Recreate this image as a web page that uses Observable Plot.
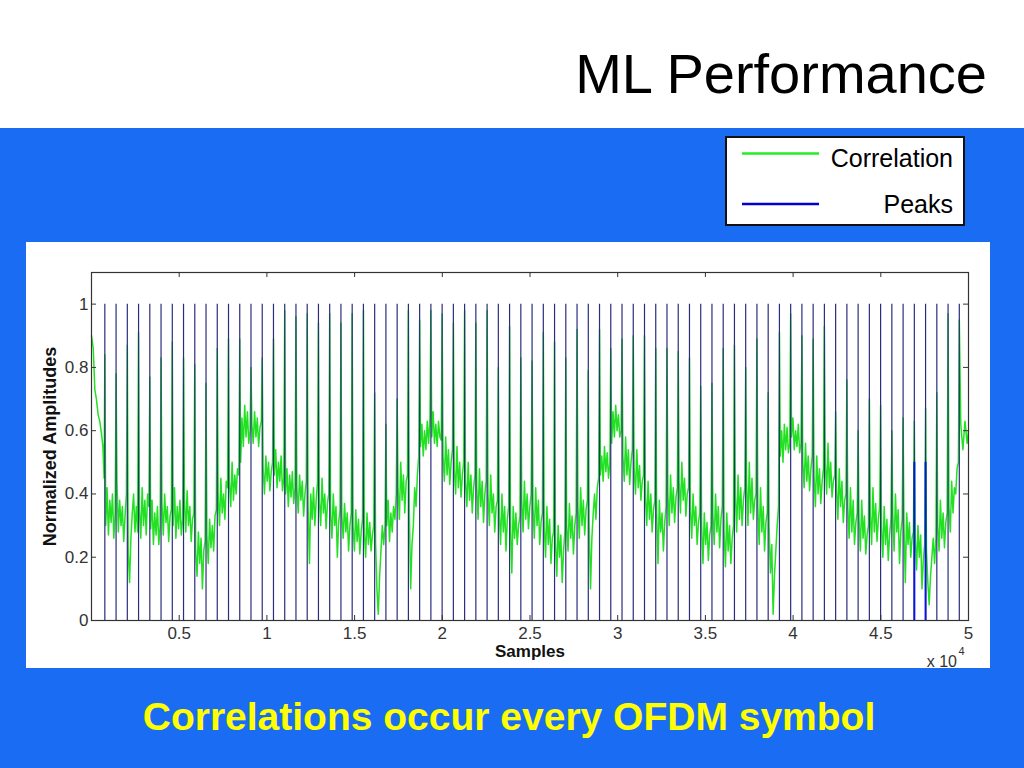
<!DOCTYPE html>
<html>
<head>
<meta charset="utf-8">
<script src="https://cdn.jsdelivr.net/npm/d3@7"></script>
<script src="https://cdn.jsdelivr.net/npm/@observablehq/plot@0.6"></script>
<style>
  html, body { margin: 0; padding: 0; }
  body { width: 1024px; height: 768px; position: relative; overflow: hidden; background: #1a6cf2; font-family: "Liberation Sans", Arial, sans-serif; }
  #topband { position: absolute; left: 0; top: 0; width: 1024px; height: 128px; background: #ffffff; }
  #chart { position: absolute; left: 26px; top: 242px; width: 964px; height: 426px; background: #ffffff; }
  #overlay { position: absolute; left: 0; top: 0; pointer-events: none; }
</style>
</head>
<body>
<div id="topband"></div>
<div id="chart"></div>
<svg id="overlay" width="1024" height="768" xmlns="http://www.w3.org/2000/svg">
  <text x="987" y="93" text-anchor="end" font-family="Liberation Sans, Arial, sans-serif" font-size="56" fill="#000">ML Performance</text>
  <rect x="726" y="137" width="238" height="88" fill="#fff" stroke="#111" stroke-width="2"></rect>
  <line x1="742" x2="819" y1="153.5" y2="153.5" stroke="#22ee22" stroke-width="2.5"></line>
  <line x1="742" x2="819" y1="204" y2="204" stroke="#0000d0" stroke-width="2.5"></line>
  <text x="953" y="166.5" text-anchor="end" font-family="Liberation Sans, Arial, sans-serif" font-size="25" fill="#000">Correlation</text>
  <text x="953" y="212.5" text-anchor="end" font-family="Liberation Sans, Arial, sans-serif" font-size="25" fill="#000">Peaks</text>
  <text x="957" y="666.5" text-anchor="end" font-family="Liberation Sans, Arial, sans-serif" font-size="16" fill="#333">x 10</text>
  <text x="958.5" y="655" font-family="Liberation Sans, Arial, sans-serif" font-size="11" fill="#333">4</text>
  <text x="509" y="730" text-anchor="middle" font-family="Liberation Sans, Arial, sans-serif" font-size="39" font-weight="bold" fill="#ffff00">Correlations occur every OFDM symbol</text>
</svg>
<script>
// ---- tick values / labels ----
const xTickValues = [5000, 10000, 15000, 20000, 25000, 30000, 35000, 40000, 45000, 50000];
const xTickLabels = ["0.5", "1", "1.5", "2", "2.5", "3", "3.5", "4", "4.5", "5"];
const yTickValues = [0, 0.2, 0.4, 0.6, 0.8, 1];
const yTickLabels = ["0", "0.2", "0.4", "0.6", "0.8", "1"];

// ---- peaks (sample index of each OFDM symbol start) ----
const peakSamples = [760, 1401, 2042, 2683, 3324, 3965, 4606, 5247, 5888, 6529,
  7170, 7811, 8452, 9093, 9734, 10375, 11016, 11657, 12298, 12939,
  13580, 14221, 14862, 15503, 16144, 16785, 17426, 18067, 18708, 19349,
  19990, 20631, 21272, 21913, 22554, 23195, 23836, 24477, 25118, 25759,
  26400, 27041, 27682, 28323, 28964, 29605, 30246, 30887, 31528, 32169,
  32810, 33451, 34092, 34733, 35374, 36015, 36656, 37297, 37938, 38579,
  39220, 39861, 40502, 41143, 41784, 42425, 43066, 43707, 44348, 44989,
  45630, 46271, 46912, 47553, 48194, 48835, 49476];
const peakAmplitude = 1;
const halfPeakSamples = [46912, 47553];
const halfPeakAmplitude = 0.5;

// ---- correlation: spike height at each peak ----
const spikeHeights = [0.84, 0.78, 0.87, 0.91, 0.77, 0.83, 0.88, 0.83, 0.81, 0.75,
  0.86, 0.89, 0.89, 0.80, 0.83, 0.89, 0.98, 0.96, 0.97, 0.94,
  0.97, 0.94, 0.97, 0.98, 0.72, 0.62, 0.70, 0.98, 0.95, 0.98,
  0.97, 0.94, 0.98, 0.94, 0.98, 0.80, 0.93, 0.83, 0.82, 0.91,
  0.88, 0.83, 0.92, 0.79, 0.92, 0.86, 0.89, 0.90, 0.90, 0.86,
  0.86, 0.85, 0.83, 0.74, 0.75, 0.86, 0.87, 0.80, 0.89, 0.72,
  0.91, 0.97, 0.90, 0.89, 0.93, 0.66, 0.76, 0.60, 0.70, 0.68,
  0.60, 0.64, 0.63, 0.67, 0.72, 0.97, 0.95];

// ---- correlation: baseline readings between consecutive peaks ----
const baseFrac = [0.08, 0.2, 0.32, 0.44, 0.56, 0.68, 0.8, 0.92];
const baseline = [
  [.30,.42,.27,.38,.31,.40,.26,.34], [.44,.28,.38,.30,.36,.25,.33,.40], [.22,.12,.26,.34,.40,.28,.36,.28],
  [.35,.26,.42,.30,.38,.27,.40,.36], [.29,.38,.24,.34,.27,.36,.24,.30], [.37,.27,.40,.31,.36,.25,.33,.35],
  [.30,.42,.26,.36,.29,.38,.27,.32], [.38,.28,.41,.30,.36,.25,.32,.34], [.22,.14,.28,.18,.26,.10,.22,.25],
  [.27,.18,.32,.23,.30,.22,.33,.35], [.40,.30,.45,.34,.40,.32,.44,.42], [.44,.36,.50,.38,.46,.40,.48,.46],
  [.50,.64,.55,.68,.58,.66,.56,.60], [.62,.56,.66,.58,.64,.55,.61,.63], [.48,.40,.52,.44,.50,.41,.47,.50],
  [.46,.54,.42,.50,.44,.52,.41,.45], [.40,.48,.36,.46,.39,.47,.37,.42], [.42,.34,.46,.38,.44,.33,.40,.44],
  [.36,.18,.40,.32,.42,.30,.38,.44], [.38,.30,.45,.34,.40,.29,.37,.40], [.34,.26,.40,.30,.36,.20,.31,.35],
  [.33,.26,.37,.28,.34,.22,.30,.34], [.30,.22,.35,.25,.32,.21,.28,.32], [.28,.20,.34,.24,.31,.22,.27,.30],
  [.25,.10,.02,.14,.22,.30,.24,.30], [.30,.38,.25,.34,.28,.36,.32,.40], [.42,.32,.50,.38,.46,.34,.44,.46],
  [.35,.10,.24,.30,.42,.36,.46,.52], [.55,.62,.52,.60,.54,.63,.56,.64], [.58,.66,.56,.62,.55,.63,.58,.57],
  [.52,.44,.58,.46,.54,.43,.50,.54], [.48,.40,.55,.42,.50,.39,.46,.50], [.44,.36,.50,.38,.46,.34,.42,.46],
  [.42,.32,.48,.36,.44,.31,.40,.44], [.40,.30,.46,.34,.40,.28,.36,.38], [.34,.24,.40,.28,.36,.22,.32,.36],
  [.30,.15,.36,.26,.34,.24,.30,.33], [.38,.28,.44,.32,.40,.29,.36,.40], [.36,.26,.42,.30,.38,.24,.31,.34],
  [.30,.20,.36,.24,.32,.18,.26,.28], [.25,.14,.30,.20,.27,.12,.22,.28], [.30,.22,.37,.26,.33,.21,.30,.34],
  [.36,.26,.42,.30,.38,.27,.35,.38], [.30,.10,.26,.34,.40,.32,.42,.45], [.46,.52,.44,.55,.47,.53,.45,.50],
  [.56,.66,.58,.68,.60,.65,.58,.60], [.52,.44,.58,.46,.54,.43,.50,.54], [.48,.40,.54,.42,.49,.38,.44,.46],
  [.40,.30,.44,.32,.40,.28,.35,.38], [.34,.18,.38,.28,.34,.22,.31,.36], [.40,.30,.46,.34,.42,.31,.39,.42],
  [.44,.34,.50,.38,.45,.33,.40,.42], [.36,.26,.40,.30,.36,.24,.31,.34], [.30,.18,.34,.24,.31,.19,.27,.30],
  [.34,.24,.40,.28,.36,.23,.32,.36], [.28,.17,.34,.22,.30,.18,.26,.30], [.40,.28,.46,.32,.42,.30,.38,.42],
  [.44,.30,.50,.34,.45,.32,.38,.40], [.36,.24,.42,.28,.36,.22,.31,.34], [.30,.15,.24,.02,.14,.22,.30,.36],
  [.52,.60,.50,.62,.54,.61,.53,.56], [.58,.64,.54,.60,.55,.62,.53,.56], [.50,.42,.56,.44,.52,.41,.48,.52],
  [.46,.36,.52,.40,.48,.37,.44,.48], [.50,.40,.56,.42,.50,.39,.44,.46], [.42,.32,.48,.36,.44,.31,.38,.40],
  [.36,.26,.42,.28,.38,.24,.31,.34], [.32,.22,.38,.26,.33,.21,.27,.30], [.34,.24,.42,.28,.37,.25,.32,.36],
  [.30,.20,.36,.24,.32,.19,.27,.32], [.34,.22,.40,.28,.35,.18,.28,.32], [.30,.12,.34,.24,.31,.20,.26,.28],
  [.26,.16,.30,.20,.27,.10,.19,.24], [.22,.12,.05,.14,.20,.26,.18,.26], [.30,.22,.38,.26,.34,.23,.31,.34],
  [.36,.28,.44,.34,.42,.40,.48,.50]
];

// ---- correlation before first peak and after last peak ----
const leadSamples = [0, 100, 190, 280, 380, 470, 570, 650, 720];
const leadValues = [0.90, 0.86, 0.73, 0.70, 0.65, 0.63, 0.59, 0.55, 0.45];
const trailSamples = [49560, 49680, 49800, 49920, 50000];
const trailValues = [0.62, 0.54, 0.63, 0.56, 0.60];

// ---- assemble correlation series ----
const corr = [];
leadSamples.forEach((s, i) => corr.push({s, v: leadValues[i]}));
for (let k = 0; k < peakSamples.length; k++) {
  corr.push({s: peakSamples[k], v: spikeHeights[k]});
  if (k < peakSamples.length - 1) {
    const a = peakSamples[k], b = peakSamples[k + 1];
    baseline[k].forEach((v, j) => corr.push({s: a + baseFrac[j] * (b - a), v}));
  }
}
trailSamples.forEach((s, i) => corr.push({s, v: trailValues[i]}));

const axisColor = "#333";
const chart = Plot.plot({
  width: 964,
  height: 426,
  marginLeft: 65,
  marginRight: 22,
  marginTop: 30,
  marginBottom: 48,
  style: {background: "#ffffff", fontFamily: "'Liberation Sans', Arial, sans-serif", fontSize: "17px", color: "#333"},
  x: {domain: [0, 50000]},
  y: {domain: [0, 1.1]},
  marks: [
    Plot.line(corr, {x: "s", y: "v", stroke: "#22e022", strokeWidth: 1.5}),
    Plot.ruleX(peakSamples, {x: d => d, y1: 0, y2: peakAmplitude, stroke: "#2b2d7c", strokeWidth: 1.2}),
    Plot.ruleX(halfPeakSamples, {x: d => d, y1: 0, y2: halfPeakAmplitude, stroke: "#0a14d8", strokeWidth: 2}),
    Plot.frame({stroke: axisColor, strokeWidth: 1.2}),
    // inward ticks on all four sides
    Plot.ruleX(xTickValues, {x: d => d, y1: 0, y2: 0, insetBottom: 5, stroke: axisColor}),
    Plot.ruleX(xTickValues, {x: d => d, y1: 1.1, y2: 1.1, insetTop: 5, stroke: axisColor}),
    Plot.ruleY(yTickValues, {y: d => d, x1: 0, x2: 0, insetLeft: 5, stroke: axisColor}),
    Plot.ruleY(yTickValues, {y: d => d, x1: 50000, x2: 50000, insetRight: 5, stroke: axisColor}),
    Plot.axisX(xTickValues, {tickSize: 0, tickPadding: 6, tickFormat: (d, i) => xTickLabels[i], fontSize: 17, label: null, fill: "#333"}),
    Plot.axisY(yTickValues, {tickSize: 0, tickPadding: 3, tickFormat: (d, i) => yTickLabels[i], fontSize: 17, label: null, fill: "#333"}),
    Plot.text(["Samples"], {frameAnchor: "bottom", dy: 31, lineAnchor: "middle", textAnchor: "middle", fontSize: 17, fontWeight: "bold", fill: "#111"}),
    Plot.text(["Normalized Amplitudes"], {frameAnchor: "left", dx: -41, rotate: -90, lineAnchor: "middle", textAnchor: "middle", fontSize: 18, fontWeight: "bold", fill: "#111"})
  ]
});
document.getElementById("chart").appendChild(chart);
</script>
</body>
</html>
